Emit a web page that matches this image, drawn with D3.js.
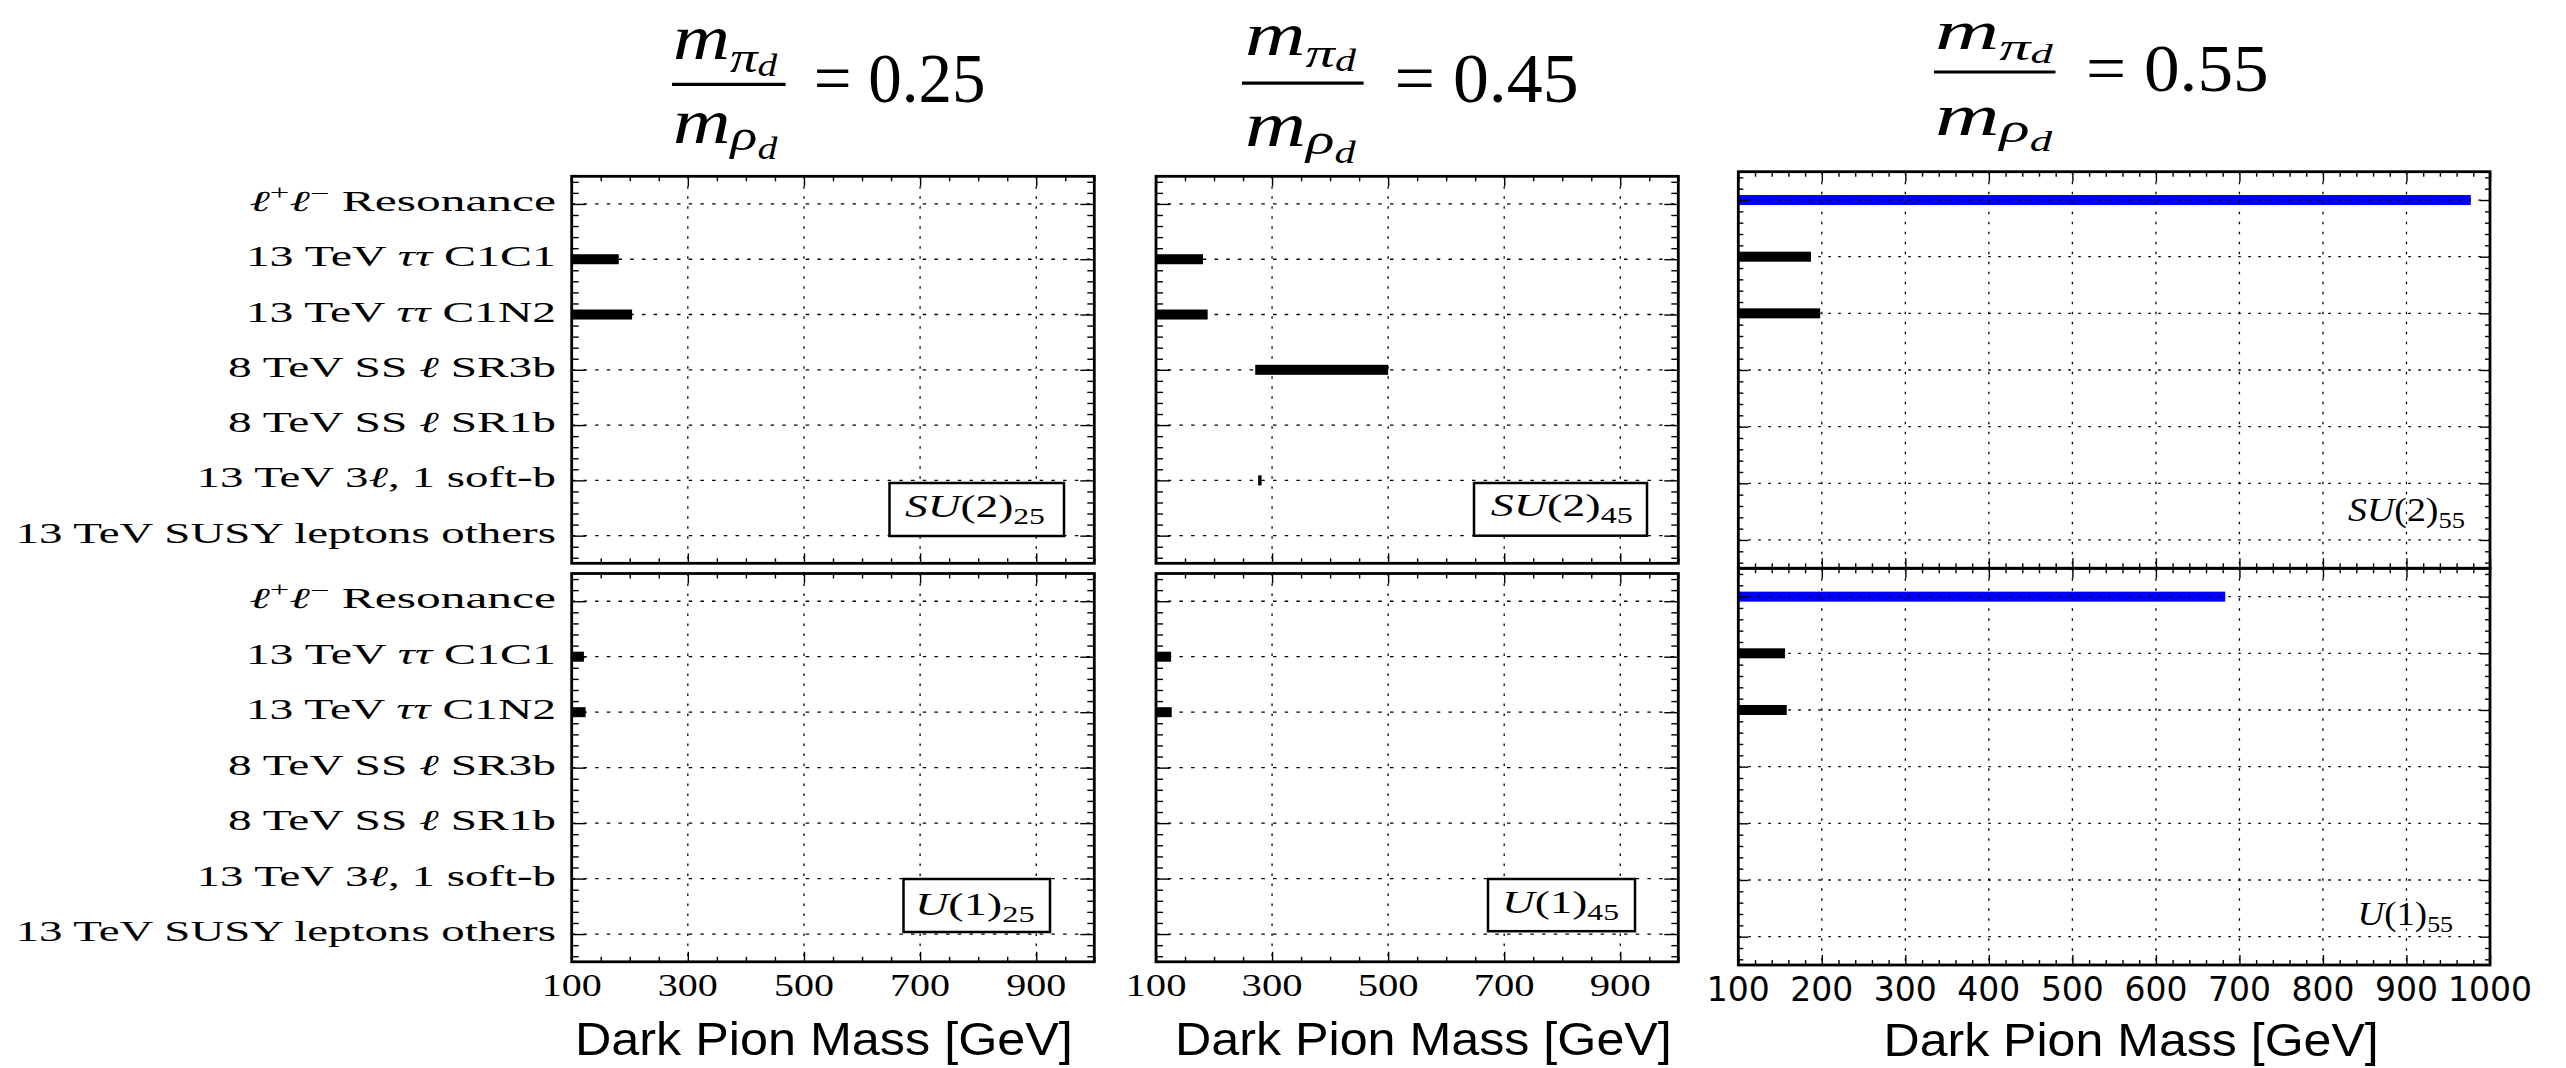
<!DOCTYPE html>
<html><head><meta charset="utf-8">
<script src="https://cdn.jsdelivr.net/npm/d3@7"></script>
<style>
html,body{margin:0;padding:0;background:#fff;}
svg{display:block;}
</style></head>
<body>
<svg id="chart" width="2566" height="1068"></svg>
<script>
// ---------------- DATA ----------------
const categories = [
  "ℓ+ℓ− Resonance",
  "13 TeV ττ C1C1",
  "13 TeV ττ C1N2",
  "8 TeV SS ℓ SR3b",
  "8 TeV SS ℓ SR1b",
  "13 TeV 3ℓ, 1 soft-b",
  "13 TeV SUSY leptons others"
];
const xDomain = [100, 1000];
const xTickLabelsNarrow = [100, 300, 500, 700, 900];
const xTickLabelsWide = [100, 200, 300, 400, 500, 600, 700, 800, 900, 1000];
const ratioValues = ["0.25", "0.45", "0.55"];
const groupNames = ["SU(2)", "U(1)"];
const groupSubscripts = ["25", "45", "55"];
const xAxisTitle = "Dark Pion Mass [GeV]";

// excluded mass ranges [category index, low, high] in GeV
const barsSU25 = [{cat: 1, lo: 100, hi: 181}, {cat: 2, lo: 100, hi: 204}];
const barsU25  = [{cat: 1, lo: 100, hi: 121}, {cat: 2, lo: 100, hi: 124}];
const barsSU45 = [{cat: 1, lo: 100, hi: 181}, {cat: 2, lo: 100, hi: 189}, {cat: 3, lo: 271, hi: 500}, {cat: 5, lo: 276, hi: 282}];
const barsU45  = [{cat: 1, lo: 100, hi: 126}, {cat: 2, lo: 100, hi: 127}];
const barsSU55 = [{cat: 0, lo: 100, hi: 977}, {cat: 1, lo: 100, hi: 187}, {cat: 2, lo: 100, hi: 198}];
const barsU55  = [{cat: 0, lo: 100, hi: 683}, {cat: 1, lo: 100, hi: 156}, {cat: 2, lo: 100, hi: 158}];

// ---------------- LAYOUT / STYLE ----------------
const SERIF = "'Liberation Serif','DejaVu Serif',serif";
const SANS = "'Liberation Sans',Arial,sans-serif";
const DSANS = "'DejaVu Sans',sans-serif";
const svg = d3.select("#chart");

function fit(sel, x0, x1) {
  const bb = sel.node().getBBox();
  const s = (x1 - x0) / bb.width;
  sel.attr("transform", `translate(${x0},0) scale(${s},1) translate(${-bb.x},0)`);
}

const panels = [
  {left: 571.7, right: 1094.3,
   subs: [{top: 176.3, bottom: 563.3}, {top: 573.5, bottom: 961.8}],
   majors: xTickLabelsNarrow, minorStep: 50,
   yMaj: 14, yMin: 7, xMaj: 10, xMin: 5,
   hDash: "3.5,8.2", vDash: "2.5,7.5",
   bars: [barsSU25, barsU25],
   boxed: true,
   labels: [{tx0: 905, tx1: 1045, base: 517, box: [889.5, 483, 1064, 536]},
            {tx0: 915, tx1: 1034.6, base: 915, box: [903.5, 879, 1050, 932]}],
   tickFs: 31, tickWidth: 60, tickBase: 996,
   xl: {x0: 575, x1: 1073, base: 1055},
   title: {numX0: 673, numX1: 778.6, numBase: 59, numFs: 64, barX0: 672, barX1: 785.6, barY: 84.4,
           denX0: 673, denX1: 778.6, denBase: 142.6, denFs: 64, valX0: 813.7, valX1: 985.5, valBase: 101.8, vFs: 69}},
  {left: 1156, right: 1678.3,
   subs: [{top: 176.3, bottom: 563.3}, {top: 573.5, bottom: 961.8}],
   majors: xTickLabelsNarrow, minorStep: 50,
   yMaj: 14, yMin: 7, xMaj: 10, xMin: 5,
   hDash: "3.5,8.2", vDash: "2.5,7.5",
   bars: [barsSU45, barsU45],
   boxed: true,
   labels: [{tx0: 1490.8, tx1: 1632.9, base: 516, box: [1474, 483, 1647, 535.7]},
            {tx0: 1502, tx1: 1619, base: 913, box: [1488, 879, 1635, 931.2]}],
   tickFs: 31, tickWidth: 61, tickBase: 996,
   xl: {x0: 1175, x1: 1672, base: 1055},
   title: {numX0: 1245, numX1: 1357, numBase: 55, numFs: 61, barX0: 1242, barX1: 1363.6, barY: 83.2,
           denX0: 1245, denX1: 1357, denBase: 146, denFs: 64, valX0: 1394.5, valX1: 1578.7, valBase: 101.7, vFs: 69}},
  {left: 1738.3, right: 2490,
   subs: [{top: 171.7, bottom: 568.3}, {top: 568.3, bottom: 965}],
   majors: xTickLabelsWide, minorStep: 20,
   yMaj: 10, yMin: 5, xMaj: 10, xMin: 5,
   hDash: "2.5,7.5", vDash: "2.5,7.5",
   bars: [barsSU55, barsU55],
   boxed: false,
   labels: [{tx0: 2348, tx1: 2465, base: 521},
            {tx0: 2357.5, tx1: 2453, base: 925}],
   tickFs: 33, tickWidth: null, tickBase: 1001,
   xl: {x0: 1883.5, x1: 2379, base: 1056},
   title: {numX0: 1935, numX1: 2053.6, numBase: 49, numFs: 54, barX0: 1934, barX1: 2055.5, barY: 72,
           denX0: 1935, denX1: 2053.6, denBase: 135, denFs: 60, valX0: 2086, valX1: 2268.7, valBase: 90.6, vFs: 67}}
];
const yLabelLeft = [249, 245.5, 245.5, 228, 228, 196.4, 15.4];
const yLabelRight = 556;
const barH = 10;

function richLabel(sel, str, fs) {
  const chars = Array.from(str);
  let run = "", shift = 0;
  const flush = () => { if (run) { sel.append("tspan").attr("dy", -shift).text(run); shift = 0; run = ""; } };
  chars.forEach((c, i) => {
    const prev = chars[i - 1];
    if ((c === "+" || c === "−") && prev === "ℓ") {
      flush();
      sel.append("tspan").attr("dy", -0.38 * fs - shift).attr("font-size", 0.7 * fs).text(c);
      shift = -0.38 * fs;
    } else if (c === "ℓ" || c === "τ") {
      flush();
      sel.append("tspan").attr("dy", -shift).attr("font-style", "italic").text(c);
      shift = 0;
    } else run += c;
  });
  flush();
}

function drawSub(p, si) {
  const sub = p.subs[si];
  const bars = p.bars[si];
  const x = d3.scaleLinear().domain(xDomain).range([p.left, p.right]);
  const y = d3.scaleLinear().domain([-0.5, categories.length - 0.5]).range([sub.top, sub.bottom]);
  const g = svg.append("g");

  g.selectAll("rect.bar").data(bars).join("rect").attr("class", "bar")
    .attr("x", d => x(d.lo)).attr("width", d => x(d.hi) - x(d.lo))
    .attr("y", d => y(d.cat) - barH / 2).attr("height", barH)
    .attr("fill", d => d.cat === 0 ? "#0000ff" : "#000000");

  g.selectAll("line.gx").data(p.majors).join("line").attr("class", "gx")
    .attr("x1", d => x(d)).attr("x2", d => x(d)).attr("y1", sub.top).attr("y2", sub.bottom)
    .attr("stroke", "#000").attr("stroke-width", 1.3).attr("stroke-dasharray", p.vDash);
  g.selectAll("line.gy").data(d3.range(categories.length)).join("line").attr("class", "gy")
    .attr("x1", p.left).attr("x2", p.right).attr("y1", d => y(d)).attr("y2", d => y(d))
    .attr("stroke", "#000").attr("stroke-width", 1.3).attr("stroke-dasharray", p.hDash);

  const xMinor = d3.range(xDomain[0], xDomain[1] + 0.1, p.minorStep).filter(v => !p.majors.includes(v));
  const yMajor = d3.range(categories.length);
  const yMinor = d3.range(-0.4, categories.length - 0.5, 0.2).filter(v => Math.abs(v - Math.round(v)) > 1e-6);

  const axes = [
    [d3.axisBottom(x).tickValues(p.majors).tickSizeInner(-p.xMaj), `translate(0,${sub.bottom})`],
    [d3.axisBottom(x).tickValues(xMinor).tickSizeInner(-p.xMin), `translate(0,${sub.bottom})`],
    [d3.axisTop(x).tickValues(p.majors).tickSizeInner(-p.xMaj), `translate(0,${sub.top})`],
    [d3.axisTop(x).tickValues(xMinor).tickSizeInner(-p.xMin), `translate(0,${sub.top})`],
    [d3.axisLeft(y).tickValues(yMajor).tickSizeInner(-p.yMaj), `translate(${p.left},0)`],
    [d3.axisLeft(y).tickValues(yMinor).tickSizeInner(-p.yMin), `translate(${p.left},0)`],
    [d3.axisRight(y).tickValues(yMajor).tickSizeInner(-p.yMaj), `translate(${p.right},0)`],
    [d3.axisRight(y).tickValues(yMinor).tickSizeInner(-p.yMin), `translate(${p.right},0)`]
  ];
  axes.forEach(([ax, tr]) => {
    const a = g.append("g").attr("transform", tr).call(ax.tickSizeOuter(0).tickFormat(""));
    a.select(".domain").remove();
    a.selectAll("line").attr("stroke", "#000").attr("stroke-width", 1.4);
  });

  g.append("rect").attr("x", p.left).attr("y", sub.top)
    .attr("width", p.right - p.left).attr("height", sub.bottom - sub.top)
    .attr("fill", "none").attr("stroke", "#000").attr("stroke-width", 2.8);

  // group label
  const L = p.labels[si];
  if (L.box) {
    g.append("rect").attr("x", L.box[0]).attr("y", L.box[1])
      .attr("width", L.box[2] - L.box[0]).attr("height", L.box[3] - L.box[1])
      .attr("fill", "#fff").attr("stroke", "#000").attr("stroke-width", 2.5);
  }
  const fs = p.boxed ? 32 : 34;
  const t = g.append("text").attr("x", L.tx0).attr("y", L.base)
    .attr("font-family", SERIF).attr("font-size", fs).attr("fill", "#000");
  const name = groupNames[si];
  const letters = name.slice(0, name.indexOf("("));
  t.append("tspan").attr("font-style", "italic").text(letters);
  t.append("tspan").text(name.slice(name.indexOf("(")));
  t.append("tspan").attr("font-size", fs * 0.7).attr("dy", fs * 0.22).text(groupSubscripts[panels.indexOf(p)]);
  fit(t, L.tx0, L.tx1);

  return {x, y, g};
}

panels.forEach((p, pi) => {
  let lastX;
  p.subs.forEach((sub, si) => {
    const {x, y} = drawSub(p, si);
    lastX = x;
    // y labels on first panel only
    if (pi === 0) {
      categories.forEach((c, i) => {
        const t = svg.append("text").attr("x", yLabelRight).attr("y", y(i) + 7)
          .attr("text-anchor", "end").attr("font-family", SERIF).attr("font-size", 29).attr("fill", "#000");
        richLabel(t, c, 29);
        fit(t, yLabelLeft[i], yLabelRight);
      });
    }
  });
  // x tick labels
  p.majors.forEach(v => {
    const t = svg.append("text").attr("x", lastX(v)).attr("y", p.tickBase)
      .attr("text-anchor", "middle").attr("fill", "#000")
      .attr("font-family", p.tickWidth ? SERIF : DSANS).attr("font-size", p.tickFs).text(v);
    if (p.tickWidth) fit(t, lastX(v) - p.tickWidth / 2, lastX(v) + p.tickWidth / 2);
  });
  // x axis title
  const xl = svg.append("text").attr("x", p.xl.x0).attr("y", p.xl.base)
    .attr("font-family", SANS).attr("font-size", 47).attr("fill", "#000").text(xAxisTitle);
  fit(xl, p.xl.x0, p.xl.x1);

  // panel title: m_{pi_d} / m_{rho_d} = value
  const T = p.title;
  const num = svg.append("text").attr("x", T.numX0).attr("y", T.numBase)
    .attr("font-family", SERIF).attr("font-size", T.numFs).attr("font-style", "italic").attr("fill", "#000");
  num.append("tspan").text("m");
  num.append("tspan").attr("font-size", T.numFs * 0.7).attr("dy", T.numFs * 0.2).text("π");
  num.append("tspan").attr("font-size", T.numFs * 0.5).attr("dy", T.numFs * 0.06).text("d");
  fit(num, T.numX0, T.numX1);
  svg.append("line").attr("x1", T.barX0).attr("x2", T.barX1).attr("y1", T.barY).attr("y2", T.barY)
    .attr("stroke", "#000").attr("stroke-width", 3.2);
  const den = svg.append("text").attr("x", T.denX0).attr("y", T.denBase)
    .attr("font-family", SERIF).attr("font-size", T.denFs).attr("font-style", "italic").attr("fill", "#000");
  den.append("tspan").text("m");
  den.append("tspan").attr("font-size", T.denFs * 0.7).attr("dy", T.denFs * 0.12).text("ρ");
  den.append("tspan").attr("font-size", T.denFs * 0.5).attr("dy", T.denFs * 0.14).text("d");
  fit(den, T.denX0, T.denX1);
  const val = svg.append("text").attr("x", T.valX0).attr("y", T.valBase)
    .attr("font-family", SERIF).attr("font-size", T.vFs).attr("fill", "#000")
    .text("= " + ratioValues[pi]);
  fit(val, T.valX0, T.valX1);
});
</script>
</body></html>
